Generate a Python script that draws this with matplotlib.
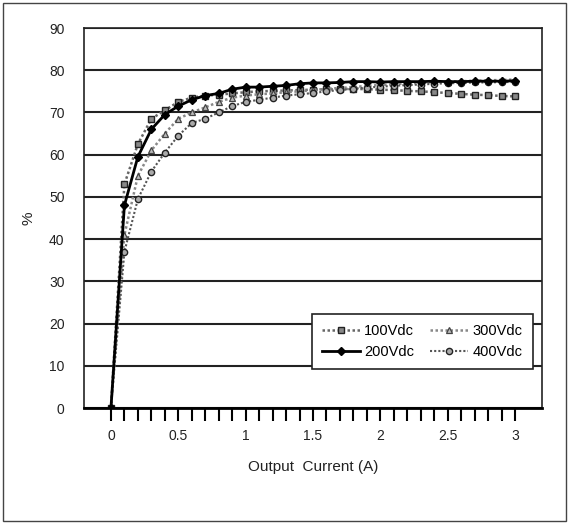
import numpy as np
import matplotlib
matplotlib.use('Agg')
import matplotlib.pyplot as plt
from matplotlib.patches import Rectangle

plt.rcParams['font.family'] = ['Liberation Sans', 'DejaVu Sans']

# Output current steps (A)
current = [round(0.1 * i, 1) for i in range(31)]

eff_100 = [0, 53, 62.5, 68.5, 70.5, 72.5, 73.5, 74, 74.2, 74.5, 74.8, 75, 75.1, 75.2, 75.3, 75.4,
           75.5, 75.5, 75.6, 75.5, 75.4, 75.3, 75.1, 75, 74.8, 74.6, 74.4, 74.2, 74.1, 73.9, 73.8]
eff_200 = [0, 48, 59.5, 66, 69.5, 71.5, 73, 74, 74.5, 75.5, 76, 76, 76.2, 76.4, 76.8, 77,
           77, 77.1, 77.3, 77.3, 77.2, 77.3, 77.3, 77.3, 77.4, 77.3, 77.3, 77.4, 77.4, 77.4, 77.5]
eff_300 = [0, 41, 55, 61, 65, 68.5, 70, 71.2, 72.5, 73.5, 74, 74.3, 74.5, 74.8, 75, 75.3,
           75.6, 75.8, 76, 76.3, 76.5, 76.7, 76.9, 77, 77.2, 77.3, 77.4, 77.5, 77.6, 77.7, 77.8]
eff_400 = [0, 37, 49.5, 56, 60.5, 64.5, 67.5, 68.5, 70, 71.5, 72.5, 73, 73.5, 74, 74.3, 74.6,
           75, 75.3, 75.6, 75.9, 76.1, 76.3, 76.5, 76.6, 76.8, 76.9, 77, 77.1, 77.1, 77.2, 77.2]

fig = plt.figure(figsize=(5.69, 5.24), dpi=100)
ax = fig.add_axes([84 / 569, 1 - 408 / 524, (542 - 84) / 569, (408 - 28) / 524])

dots = (0, (1, 1))
ax.plot(current, eff_100, color='#666666', lw=1.8, ls=dots, marker='s', ms=4.5,
        mfc='#888888', mec='#222222', mew=1.0, label='100Vdc', zorder=3)
ax.plot(current, eff_200, color='black', lw=2.0, ls='-', marker='D', ms=4,
        mfc='black', mec='black', label='200Vdc', zorder=4)
ax.plot(current, eff_300, color='#888888', lw=1.8, ls=dots, marker='^', ms=4.5,
        mfc='#bbbbbb', mec='#444444', mew=0.9, label='300Vdc', zorder=3)
ax.plot(current, eff_400, color='#555555', lw=1.5, ls=dots, marker='o', ms=4.5,
        mfc='#aaaaaa', mec='#222222', mew=1.0, label='400Vdc', zorder=3)

ax.set_xlim(-0.2, 3.2)
ax.set_ylim(0, 90)
ax.set_yticks(range(0, 91, 10))
ax.set_xticks(np.arange(0, 3.01, 0.5))
ax.set_xticklabels(['0', '0.5', '1', '1.5', '2', '2.5', '3'])
ax.set_xticks(current, minor=True)
ax.tick_params(axis='x', which='both', direction='out', length=9, width=1.5,
               color='black', pad=6, labelsize=10, colors='#222222')
ax.tick_params(axis='y', length=0, pad=14, labelsize=10, colors='#222222')
ax.yaxis.grid(True, color='#222222', lw=1.5)
ax.set_axisbelow(True)

for side in ['left', 'top', 'right']:
    ax.spines[side].set_linewidth(1.2)
    ax.spines[side].set_color('#222222')
ax.spines['bottom'].set_linewidth(2)

ax.set_xlabel('Output  Current (A)', fontsize=11, labelpad=12, color='#222222')
ax.set_ylabel('%', fontsize=11, labelpad=10, color='#222222')

leg = ax.legend(ncol=2, loc='lower right', bbox_to_anchor=(0.98, 0.103), borderaxespad=0,
                fontsize=10.5, handlelength=2.6, handletextpad=0.3, columnspacing=1.1,
                fancybox=False, framealpha=1, edgecolor='#222222', borderpad=0.7,
                labelspacing=0.45)
leg.get_frame().set_linewidth(1.2)

fig.patches.append(Rectangle((3 / 569, 3 / 524), 563 / 569, 518 / 524, transform=fig.transFigure,
                             fill=False, edgecolor='#444444', lw=1))

fig.savefig('out.png', dpi=100)
